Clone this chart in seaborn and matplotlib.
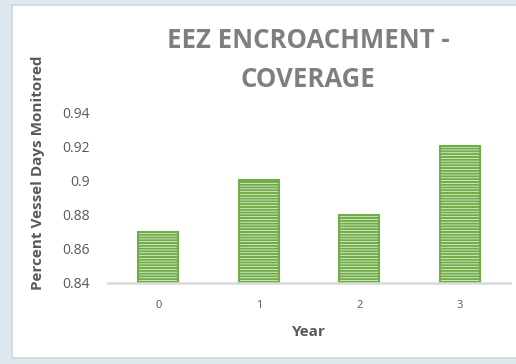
import matplotlib
matplotlib.use("Agg")
import matplotlib.pyplot as plt
from matplotlib.patches import Rectangle
from matplotlib.ticker import FuncFormatter
import seaborn as sns
import pandas as pd

years = ["0", "1", "2", "3"]
coverage = [0.87, 0.90, 0.88, 0.92]
y_ticks = [0.84, 0.86, 0.88, 0.90, 0.92, 0.94]

sns.set_theme(style="white")
plt.rcParams["font.family"] = ["Open Sans", "DejaVu Sans"]
plt.rcParams["hatch.linewidth"] = 1.5

df = pd.DataFrame({"Year": years, "Coverage": coverage})

fig = plt.figure(figsize=(5.16, 3.64), dpi=100, facecolor="#dde9ef")
fig.patches.append(Rectangle((12 / 516, 1 - 358 / 364), 1.0, 353 / 364,
                             transform=fig.transFigure, facecolor="white",
                             edgecolor="#d0d5d8", linewidth=1.2, zorder=-5))

ax = fig.add_axes([108 / 516, 1 - 283 / 364, 402 / 516, 171 / 364])
ax.set_facecolor("none")
ax.set_zorder(2)

sns.barplot(data=df, x="Year", y="Coverage", ax=ax, width=0.4,
            color="#f4f9f0", edgecolor="#70ad47", linewidth=1.5,
            hatch="------", zorder=3)

ax.set_ylim(0.84, 0.94)
ax.set_xlim(-0.5, 3.5)
ax.set_yticks(y_ticks)
ax.yaxis.set_major_formatter(FuncFormatter(lambda v, p: f"{v:.2f}".rstrip("0")))

for s in ["top", "right", "left"]:
    ax.spines[s].set_visible(False)
ax.spines["bottom"].set_color("#d9d9d9")
ax.spines["bottom"].set_linewidth(1.8)
ax.spines["bottom"].set_zorder(4)

ax.tick_params(axis="both", length=0, colors="#595959")
ax.tick_params(axis="y", labelsize=10, pad=13)
ax.tick_params(axis="x", labelsize=8, pad=12)

ax.set_xlabel("Year", fontsize=11, fontweight="bold", color="#595959", labelpad=10)
ax.set_ylabel("Percent Vessel Days Monitored", fontsize=11, fontweight="bold",
              color="#595959")
ax.yaxis.set_label_coords(-63 / 402, 0.645)

fig.text(308 / 516, 1 - 60 / 364, "EEZ ENCROACHMENT -\nCOVERAGE", ha="center",
         va="center", fontsize=18.5, fontweight="bold", color="#7f7f7f",
         linespacing=1.55)

fig.savefig("out.png", dpi=100, facecolor=fig.get_facecolor())
